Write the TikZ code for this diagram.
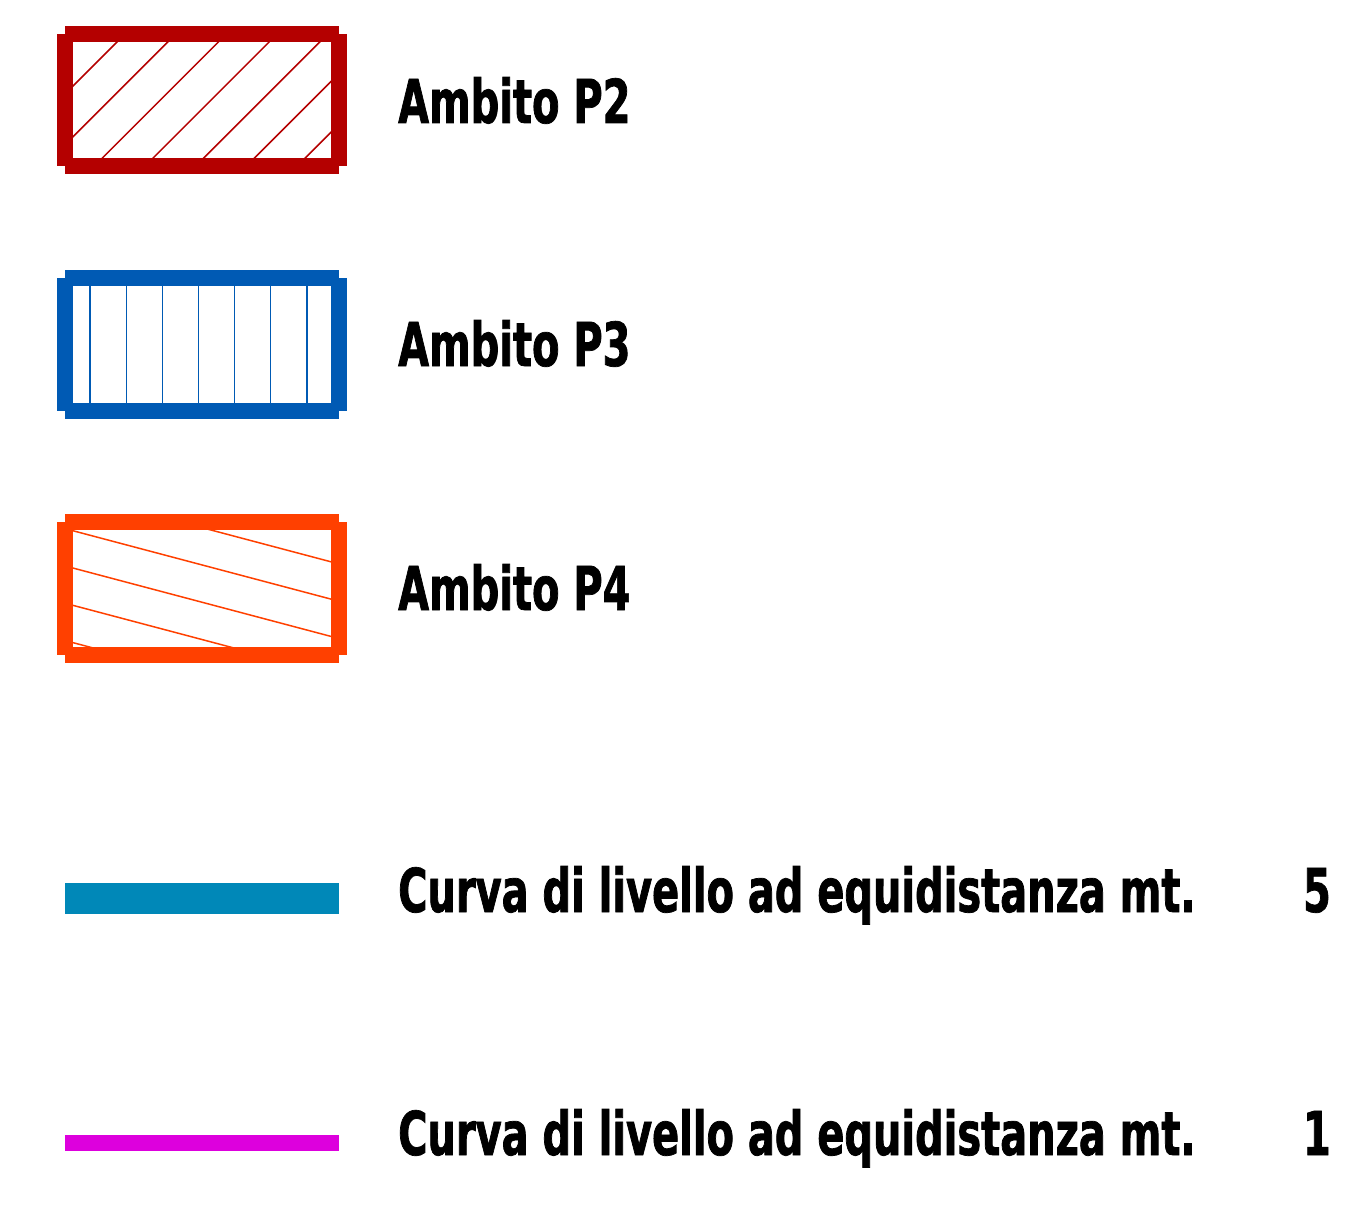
\documentclass[tikz,border=0pt]{standalone}
\usepackage{fontspec}
\usepackage{xcolor}
\usepackage{tikz}
\newfontfamily\legfont[FakeStretch=0.66,FakeBold=1.2]{DejaVu Sans}
\definecolor{ambred}{RGB}{180,0,0}
\definecolor{ambblue}{RGB}{0,90,180}
\definecolor{ambor}{RGB}{255,64,0}
\definecolor{curvblue}{RGB}{0,136,184}
\definecolor{curvmag}{RGB}{221,0,221}

\begin{document}
\begin{tikzpicture}[x=1pt,y=-1pt,
  frame/.style={line width=16pt,line cap=butt},
  hatch/.style={line width=1.5pt},
  leg/.style={anchor=base west,inner sep=0pt,font=\legfont\bfseries\fontsize{60.5}{70}\selectfont}]
\useasboundingbox (0,0) rectangle (1370,1209);
% hatchings
\begin{scope}
\clip (73,42) rectangle (331,158);
\foreach \c in {159,209.7,260.4,311.1,361.8,412.5,463.2}
  \draw[hatch,ambred] (\c,0) -- (\c-200,200);
\end{scope}
\begin{scope}
\clip (73,286) rectangle (331,403);
\foreach \x in {90.2,126.3,162.4,198.5,234.6,270.7,306.8}
  \draw[hatch,ambblue] (\x,270) -- (\x,420);
\end{scope}
\begin{scope}
\clip (73,530) rectangle (331,647);
\foreach \k in {474.1,511.4,548.7,586,623.3}
  \draw[hatch,ambor] (0,\k) -- (400,\k+106);
\end{scope}
% frames
\foreach \t/\col in {34/ambred,278/ambblue,522/ambor}
  \draw[frame,\col] (65,\t) -- (339,\t) (65,\t+132.5) -- (339,\t+132.5)
    (65,\t) -- (65,\t+132.5) (339,\t) -- (339,\t+132.5);
% contour lines
\draw[line width=31pt,curvblue] (65,898.7) -- (339,898.7);
\draw[line width=16pt,curvmag] (65,1142.5) -- (339,1142.5);
\node[leg] (p2) at (398,123) {Ambito P2};
\node[leg] (p3) at (398,366) {Ambito P3};
\node[leg] (p4) at (398,610) {Ambito P4};
\node[leg] (c5) at (398,912) {Curva di livello ad equidistanza mt.};
\node[leg,anchor=base east] (n5) at (1331,912) {5};
\node[leg] (c1) at (398,1155) {Curva di livello ad equidistanza mt.};
\node[leg,anchor=base east] (n1) at (1331,1155) {1};
\end{tikzpicture}
\end{document}
